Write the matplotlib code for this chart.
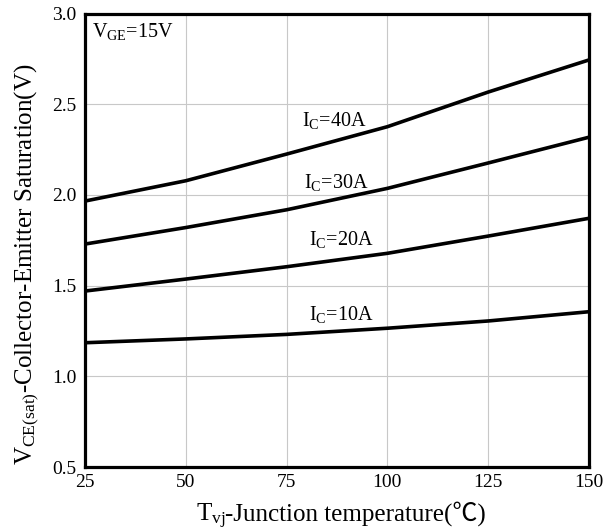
import matplotlib
matplotlib.use("Agg")
import matplotlib.pyplot as plt
from matplotlib.transforms import offset_copy

plt.rcParams['font.family'] = ['Liberation Serif', 'Noto Sans CJK SC', 'DejaVu Sans']
plt.rcParams['mathtext.fontset'] = 'custom'
plt.rcParams['mathtext.rm'] = 'Liberation Serif'
plt.rcParams['mathtext.it'] = 'Liberation Serif'
plt.rcParams['mathtext.bf'] = 'Liberation Serif'

# Data
temps = [25, 50, 75, 100, 125, 150]
vce_10a = [1.185, 1.206, 1.231, 1.265, 1.305, 1.356]
vce_20a = [1.470, 1.536, 1.604, 1.678, 1.773, 1.871]
vce_30a = [1.729, 1.820, 1.918, 2.036, 2.176, 2.318]
vce_40a = [1.966, 2.078, 2.225, 2.376, 2.567, 2.744]
series = [vce_10a, vce_20a, vce_30a, vce_40a]

curve_labels = [r'I$_\mathrm{C}$=10A', r'I$_\mathrm{C}$=20A', r'I$_\mathrm{C}$=30A', r'I$_\mathrm{C}$=40A']
label_x = [80.6, 80.6, 79.3, 78.8]
label_y = [1.310, 1.724, 2.038, 2.380]

x_ticks = [25, 50, 75, 100, 125, 150]
y_ticks = [0.5, 1.0, 1.5, 2.0, 2.5, 3.0]

fig = plt.figure(figsize=(6.15, 5.31), dpi=100)
ax = fig.add_axes([85/615, 1-467/531, (589-85)/615, (467-13.5)/531])

for ys in series:
    ax.plot(temps, ys, color='black', lw=2.6, solid_capstyle='butt', zorder=3)

for t, lx, ly in zip(curve_labels, label_x, label_y):
    ax.text(lx, ly, t, fontsize=14.5, ha='left', va='baseline', zorder=4)

ax.text(26.7, 2.870, r'V$_\mathrm{GE}$=15V', fontsize=14.5, ha='left', va='baseline')

ax.set_xlim(25, 150)
ax.set_ylim(0.5, 3.0)
ax.set_xticks(x_ticks)
ax.set_yticks(y_ticks)
ax.set_xticklabels([str(v) for v in x_ticks])
ax.set_yticklabels([f'{v:.1f}' for v in y_ticks])
ax.tick_params(axis='both', length=0, labelsize=14)
ax.tick_params(axis='x', pad=5)
ax.tick_params(axis='y', pad=6)
ax.grid(True, color='#c8c8c8', lw=0.8)
ax.set_axisbelow(True)
for s in ax.spines.values():
    s.set_linewidth(2.3)
    s.set_color('black')

# x label in two parts (mathtext subscript + plain text with font fallback for ℃)
renderer = fig.canvas.get_renderer()
xl_y = 1 - 521/531
t1 = fig.text(0, xl_y, r'T$_\mathrm{vj}$', fontsize=18, ha='left', va='baseline')
t2 = fig.text(0, xl_y, '-Junction temperature(℃)', fontsize=18, ha='left', va='baseline')
w1 = t1.get_window_extent(renderer).width
w2 = t2.get_window_extent(renderer).width
total = w1 + w2
cx = 341
start = cx - total / 2
t1.set_x(start / 615)
t2.set_x((start + w1) / 615)

fig.text(27/615, 1-264/531, r'V$_\mathrm{CE(sat)}$-Collector-Emitter Saturation(V)', fontsize=18,
         ha='center', va='center', rotation=90)

fig.savefig('out.png', dpi=100)
